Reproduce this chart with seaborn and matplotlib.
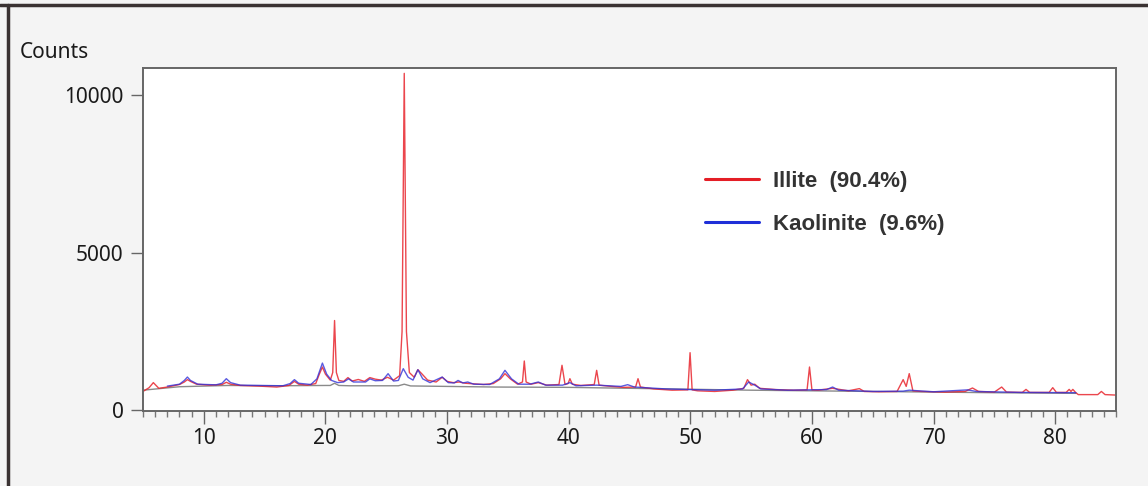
import matplotlib
matplotlib.use("Agg")
import matplotlib.pyplot as plt
import seaborn as sns
import pandas as pd
from matplotlib.lines import Line2D
from matplotlib.ticker import MultipleLocator

# ---- data ----
illite_x = [5.0, 5.5, 5.85, 6.3, 7.0, 8.0, 8.4, 8.65, 8.9, 9.4, 10.5, 11.5, 11.85, 12.2, 13.0,
            14.5, 16.0, 17.0, 17.45, 17.8, 18.5, 19.2, 19.5, 19.75, 20.0, 20.4, 20.6, 20.75,
            20.9, 21.1, 21.5, 21.85, 22.2, 22.7, 23.2, 23.65, 24.1, 24.6, 25.1, 25.6, 26.1,
            26.3, 26.48, 26.66, 26.9, 27.3, 27.6, 27.95, 28.4, 29.1, 29.6, 30.0, 30.5, 31.0,
            31.5, 32.2, 33.0, 33.8, 34.4, 34.76, 35.2, 35.8, 36.2, 36.35, 36.5, 36.9, 37.5,
            38.2, 39.2, 39.45, 39.7, 39.95, 40.1, 40.3, 41.0, 42.1, 42.3, 42.5, 43.5, 44.5,
            45.5, 45.7, 45.9, 47.0, 48.5, 49.8, 49.98, 50.15, 50.6, 52.0, 53.5, 54.4, 54.7,
            55.0, 55.3, 55.7, 57.0, 58.5, 59.6, 59.8, 60.0, 60.5, 61.7, 63.0, 63.9, 64.3,
            65.5, 67.0, 67.5, 67.75, 68.0, 68.3, 69.0, 71.0, 72.6, 73.2, 73.7, 75.0, 75.6,
            76.0, 77.3, 77.6, 77.9, 79.5, 79.8, 80.1, 80.9, 81.15, 81.3, 81.45, 81.7, 81.9,
            83.5, 83.8, 84.1, 85.0]
illite_y = [600, 720, 880, 700, 740, 820, 900, 975, 920, 830, 800, 820, 890, 830, 790,
            770, 740, 790, 920, 830, 800, 850, 1150, 1375, 1150, 960, 1200, 2850,
            1200, 950, 920, 1040, 930, 980, 920, 1040, 990, 960, 1050, 960, 1100,
            2500, 10690, 2500, 1200, 1050, 1290, 1150, 960, 900, 1050, 920, 880, 900,
            860, 840, 820, 850, 1000, 1165, 1000, 830, 900, 1566, 900, 830, 880,
            800, 820, 1430, 820, 850, 1005, 830, 790, 820, 1270, 800, 760, 730,
            740, 1005, 740, 680, 640, 650, 1830, 650, 620, 600, 640, 700, 975,
            800, 830, 700, 660, 640, 650, 1375, 650, 640, 700, 620, 690, 600,
            590, 600, 975, 760, 1165, 620, 600, 580, 600, 710, 600, 580, 740,
            580, 570, 665, 570, 570, 720, 570, 570, 665, 600, 665, 560, 500,
            500, 600, 500, 485]

kaolinite_x = [7.0, 8.0, 8.4, 8.65, 8.9, 9.5, 11.0, 11.5, 11.85, 12.2, 13.0, 16.5, 17.1, 17.45,
               17.8, 18.8, 19.3, 19.75, 20.1, 20.5, 21.0, 21.5, 21.9, 22.3, 23.3, 23.65, 24.1,
               24.7, 25.15, 25.6, 26.0, 26.4, 26.8, 27.2, 27.6, 28.0, 28.6, 29.6, 30.1, 30.6,
               30.9, 31.3, 31.7, 32.2, 33.5, 34.3, 34.76, 35.3, 35.9, 36.8, 37.5, 38.1, 39.5,
               40.1, 40.6, 42.3, 44.3, 44.85, 45.4, 48.0, 52.0, 54.3, 54.8, 55.3, 55.8, 58.0,
               61.2, 61.7, 62.2, 65.0, 67.5, 68.0, 70.0, 72.8, 73.5, 77.0, 81.7]
kaolinite_y = [770, 830, 950, 1057, 950, 830, 810, 860, 1005, 880, 800, 780, 850, 975,
               860, 820, 1000, 1500, 1150, 950, 880, 900, 1000, 900, 900, 1000, 940,
               950, 1164, 930, 950, 1323, 1050, 960, 1290, 1000, 880, 1057, 880, 870,
               950, 870, 900, 830, 820, 1000, 1270, 1000, 830, 830, 900, 800, 800,
               880, 780, 800, 760, 815, 740, 680, 640, 680, 900, 800, 680, 640,
               660, 740, 640, 600, 610, 640, 590, 650, 600, 570, 560]

background_x = [5.0, 8.0, 12.0, 16.0, 20.0, 20.4, 20.75, 21.1, 22.0, 26.0, 26.48, 27.0, 30.0,
                34.0, 40.0, 45.0, 50.0, 55.0, 60.0, 65.0, 70.0, 75.0, 81.7]
background_y = [640, 750, 790, 780, 790, 790, 860, 790, 780, 780, 830, 775, 760,
                740, 730, 700, 670, 640, 620, 600, 580, 560, 540]

x_ticks = [10, 20, 30, 40, 50, 60, 70, 80]
y_ticks = [0, 5000, 10000]
legend_labels = ["Illite  (90.4%)", "Kaolinite  (9.6%)"]

df_ill = pd.DataFrame({"x": illite_x, "y": illite_y})
df_kao = pd.DataFrame({"x": kaolinite_x, "y": kaolinite_y})
df_bg = pd.DataFrame({"x": background_x, "y": background_y})

sns.set_style("white")
plt.rcParams["font.family"] = ["Noto Sans", "DejaVu Sans"]

fig = plt.figure(figsize=(11.48, 4.86), dpi=100, facecolor="#f4f4f4")
ax = fig.add_axes([143 / 1148, 1 - 411 / 486, (1116 - 143) / 1148, (411 - 68) / 486])
ax.set_facecolor("white")

sns.lineplot(data=df_bg, x="x", y="y", ax=ax, color="#8a8a8a", lw=1.0,
             sort=False, estimator=None)
sns.lineplot(data=df_ill, x="x", y="y", ax=ax, color="#e8262e", lw=1.0, alpha=0.85,
             sort=False, estimator=None)
sns.lineplot(data=df_kao, x="x", y="y", ax=ax, color="#3232d8", lw=1.0, alpha=0.8,
             sort=False, estimator=None)

ax.set_xlim(5, 85)
ax.set_ylim(-20, 10860)
ax.set_xticks(x_ticks)
ax.set_xticklabels([str(t) for t in x_ticks])
ax.set_yticks(y_ticks)
ax.set_yticklabels([str(t) for t in y_ticks])
ax.xaxis.set_minor_locator(MultipleLocator(1))
ax.set_xlabel("")
ax.set_ylabel("")

for s in ax.spines.values():
    s.set_color("#666666")
    s.set_linewidth(1.4)

ax.tick_params(axis="both", which="major", direction="out", length=9, width=1.0,
               color="#666666", labelsize=15, labelcolor="#1a1a1a", pad=5)
ax.tick_params(axis="x", which="minor", direction="out", length=4, width=1.0,
               color="#777777", bottom=True)
ax.tick_params(axis="x", which="major", bottom=True, pad=3)
ax.tick_params(axis="y", which="major", left=True)

fig.text(20 / 1148, 1 - 52 / 486, "Counts", fontsize=15, color="#1a1a1a",
         ha="left", va="center")

handles = [Line2D([0], [0], color="#e41e26", lw=2.2),
           Line2D([0], [0], color="#1f2fd8", lw=2.2)]
leg = fig.legend(handles, legend_labels, loc="upper left",
                 bbox_to_anchor=(705 / 1148, 1 - 171 / 486), frameon=False,
                 borderpad=0, borderaxespad=0, handlelength=2.43, handletextpad=0.63,
                 labelspacing=1.0,
                 prop={"family": "Liberation Sans", "weight": "bold", "size": 16})
for t in leg.get_texts():
    t.set_color("#333333")

# outer dark border (top and left) of the screenshot
fig.add_artist(Line2D([0, 1], [1 - 5 / 486, 1 - 5 / 486], transform=fig.transFigure,
                      color="#3a3232", lw=2.5))
fig.add_artist(Line2D([8 / 1148, 8 / 1148], [0, 1 - 5 / 486], transform=fig.transFigure,
                      color="#3a3232", lw=2.5))

fig.savefig("out.png", dpi=100, facecolor=fig.get_facecolor())
